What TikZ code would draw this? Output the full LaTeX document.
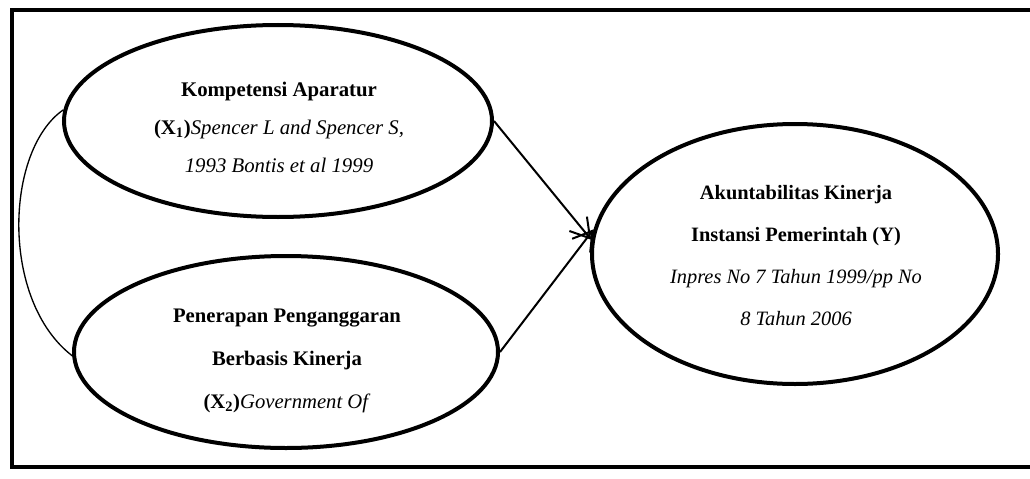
\documentclass[tikz,border=0pt]{standalone}
\usepackage{fontspec}
\setmainfont{Liberation Serif}
\usetikzlibrary{arrows.meta,shapes.geometric}
\begin{document}
\begin{tikzpicture}[x=0.75pt,y=-0.75pt,
  var/.style={ellipse,draw,line width=3pt,inner sep=0pt},
  txt/.style={align=center,inner sep=0pt},
  txtA/.style={txt,font=\fontsize{15.6}{28.5}\selectfont},
  txtB/.style={txt,font=\fontsize{15.5}{32}\selectfont},
  txtC/.style={txt,font=\fontsize{15.3}{31.5}\selectfont},
  link/.style={line width=1.5pt,-{Straight Barb[length=14pt,width=17pt,line width=1.5pt]}},
  corr/.style={line width=1pt},
  frame/.style={line width=3pt}]
\useasboundingbox (0,0) rectangle (1030,478);
\draw[frame] (1040,10) -- (12,10) -- (12,467) -- (1040,467);
\node[var,minimum width=321pt,minimum height=144pt] (e1) at (278,121) {};
\node[var,minimum width=318pt,minimum height=144pt] (e2) at (286,352) {};
\node[var,minimum width=304.5pt,minimum height=195pt] (e3) at (795,254) {};
\node[txtA] (t1) at (279,127)
  {\textbf{Kompetensi Aparatur}\\ \textbf{(X\textsubscript{1})}\textit{Spencer L and Spencer S,}\\ \textit{1993 Bontis et al 1999}};
\node[txtB] (t2) at (287,361)
  {\textbf{Penerapan Penganggaran}\\ \textbf{Berbasis Kinerja}\\ \textbf{(X\textsubscript{2})}\textit{Government Of}};
\node[txtC] (t3) at (796,256)
  {\textbf{Akuntabilitas Kinerja}\\ \textbf{Instansi Pemerintah (Y)}\\ \textit{Inpres No 7 Tahun 1999/pp No}\\ \textit{8 Tahun 2006}};
\draw[link] (e1.east) -- (e3.176);
\draw[link] (e2.east) -- (e3.173);
\draw[corr] (e1.177) .. controls (5,150) and (0,300) .. (e2.181);
\end{tikzpicture}
\end{document}
